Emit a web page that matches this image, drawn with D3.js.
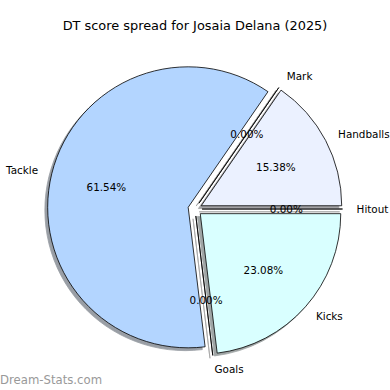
<!DOCTYPE html>
<html>
<head>
<meta charset="utf-8">
<script src="https://cdn.jsdelivr.net/npm/d3@7"></script>
<style>
  html, body { margin: 0; padding: 0; background: #fff; }
  svg { display: block; }
  text { font-family: "DejaVu Sans", sans-serif; }
</style>
</head>
<body>
<svg id="chart" width="390" height="390"></svg>
<script>
const categories = ["Hitout", "Handballs", "Mark", "Tackle", "Goals", "Kicks"];
const values = [0, 2, 0, 8, 0, 3];
const colors = ["#ffffff", "#ebf1ff", "#ffffff", "#b3d5ff", "#ffffff", "#d9ffff"];
const title = "DT score spread for Josaia Delana (2025)";
const watermark = "Dream-Stats.com";

const W = 390, H = 390;
const cx = 195, cy = 209, R = 140.5;
const explode = 0.05, labelDist = 1.1, pctDist = 0.6, shadowOff = 0.02;

const svg = d3.select("#chart");
const data = categories.map((c, i) => ({ name: c, value: values[i], color: colors[i] }));
const total = d3.sum(values);

// matplotlib style: start at 3 o'clock, counterclockwise
const pie = d3.pie().sort(null).value(d => d.value)
  .startAngle(Math.PI / 2).endAngle(Math.PI / 2 - 2 * Math.PI);
const arcs = pie(data);
const arc = d3.arc().innerRadius(0).outerRadius(R);

const g = svg.append("g").attr("transform", `translate(${cx},${cy})`);

function darker(c) {
  const r = d3.rgb(c);
  return d3.rgb(r.r * 0.3, r.g * 0.3, r.b * 0.3).formatHex();
}

arcs.forEach(a => {
  const mid = (a.startAngle + a.endAngle) / 2;
  const ox = Math.sin(mid) * explode * R;
  const oy = -Math.cos(mid) * explode * R;
  const path = arc({ startAngle: Math.min(a.startAngle, a.endAngle), endAngle: Math.max(a.startAngle, a.endAngle) });
  const sc = darker(a.data.color);
  g.append("path")
    .attr("d", path)
    .attr("transform", `translate(${ox - shadowOff * R},${oy + shadowOff * R})`)
    .attr("fill", sc).attr("stroke", sc).attr("stroke-width", 0.8)
    .attr("opacity", 0.5);
  g.append("path")
    .attr("d", path)
    .attr("transform", `translate(${ox},${oy})`)
    .attr("fill", a.data.color)
    .attr("stroke", "#000").attr("stroke-width", 0.8)
    .attr("stroke-linejoin", "miter");
});

arcs.forEach(a => {
  const mid = (a.startAngle + a.endAngle) / 2;
  const ux = Math.sin(mid), uy = -Math.cos(mid);
  const ox = ux * explode * R, oy = uy * explode * R;
  const lx = ox + ux * labelDist * R, ly = oy + uy * labelDist * R;
  g.append("text")
    .attr("x", lx).attr("y", ly)
    .attr("text-anchor", lx >= 0 ? "start" : "end")
    .attr("dominant-baseline", "central")
    .attr("font-size", 10.4).attr("fill", "#000")
    .text(a.data.name);
  const px = ox + ux * pctDist * R, py = oy + uy * pctDist * R;
  g.append("text")
    .attr("x", px).attr("y", py)
    .attr("text-anchor", "middle")
    .attr("dominant-baseline", "central")
    .attr("font-size", 10.4).attr("fill", "#000")
    .text((a.data.value / total * 100).toFixed(2) + "%");
});

svg.append("text")
  .attr("x", W / 2).attr("y", 30)
  .attr("text-anchor", "middle")
  .attr("font-size", 12.9).attr("fill", "#000")
  .text(title);

svg.append("text")
  .attr("x", 0).attr("y", 384)
  .attr("font-size", 11.7).attr("fill", "#999")
  .text(watermark);
</script>
</body>
</html>
